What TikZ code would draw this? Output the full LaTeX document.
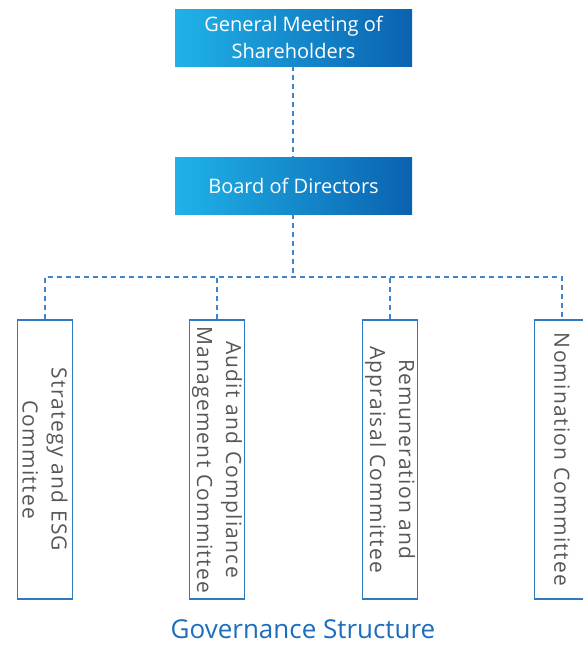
\documentclass[tikz,border=0pt]{standalone}
\usepackage{fontspec}
\setmainfont{Open Sans}
\newfontfamily\comfont[LetterSpace=6]{Open Sans}
\usetikzlibrary{positioning}

\definecolor{boxlight}{HTML}{20B2E8}
\definecolor{boxdark}{HTML}{0A62B0}
\definecolor{linkblue}{HTML}{3F84C8}
\definecolor{framblue}{HTML}{2F78C2}
\definecolor{textgray}{HTML}{575757}
\definecolor{titleblue}{HTML}{1C6DBE}

\begin{document}
\begin{tikzpicture}[x=1pt, y=-1pt,
    topbox/.style={rectangle, left color=boxlight, right color=boxdark, minimum width=237pt, minimum height=57pt, inner sep=0pt, align=center, text=white, font=\fontsize{20}{27}\selectfont},
    combox/.style={rectangle, draw=framblue, line width=1.1pt, fill=white, rotate=-90, minimum width=279pt, minimum height=55pt, inner sep=0pt, align=center, text=textgray, font=\comfont\fontsize{21}{29}\selectfont},
    link/.style={draw=linkblue, line width=1.2pt, dash pattern=on 5pt off 4pt}]
    \useasboundingbox (0,0) rectangle (582,645);

    % Definitions
    \coordinate (split) at (293,277);

    % Top of the structure
    \node[topbox] (gms) at (293.5,37.5) {General Meeting of\\Shareholders};
    \node[topbox] (board) at (293.5,185.5) {Board of Directors};

    % Committees
    \node[combox] (strategy) at (45,459.5) {Strategy and ESG\\Committee};
    \node[combox] (audit) at (217,459.5) {Audit and Compliance\\Management Committee};
    \node[combox] (remun) at (390,459.5) {Remuneration and\\Appraisal Committee};
    \node[combox] (nomin) at (562,459.5) {Nomination Committee};

    % Links
    \draw[link] (gms.south -| split) -- (board.north -| split);
    \draw[link] (board.south -| split) -- (split);
    \draw[link] (strategy.west) |- (split) -| (nomin.west);
    \draw[link] (audit.west) -- (audit.west |- split);
    \draw[link] (remun.west) -- (remun.west |- split);

    % Caption
    \node[text=titleblue, inner sep=1pt, font=\fontsize{26}{30}\selectfont] (caption) at (303,629) {Governance Structure};
\end{tikzpicture}
\end{document}
